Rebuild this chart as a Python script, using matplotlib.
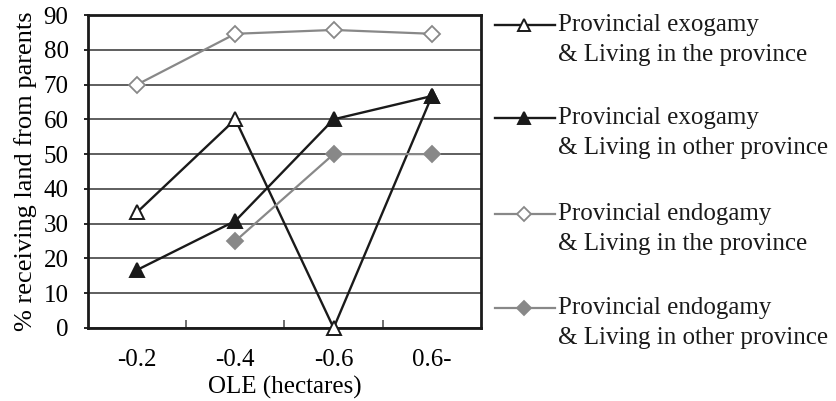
import numpy as np
import matplotlib
matplotlib.use("Agg")
import matplotlib.pyplot as plt
from matplotlib.lines import Line2D

plt.rcParams['font.family'] = ['Liberation Serif', 'DejaVu Serif']

categories = ["-0.2", "-0.4", "-0.6", "0.6-"]
exo_in_prov = [33.3, 60.0, 0.0, 66.7]
exo_other_prov = [16.7, 30.8, 60.0, 66.7]
endo_in_prov = [70.0, 84.6, 85.7, 84.6]
endo_other_prov = [np.nan, 25.0, 50.0, 50.0]
labels = ["Provincial exogamy\n& Living in the province",
          "Provincial exogamy\n& Living in other province",
          "Provincial endogamy\n& Living in the province",
          "Provincial endogamy\n& Living in other province"]
yticks = list(range(0, 91, 10))

BLACK = "#1a1a1a"
GRAY = "#888888"
FS = 18

fig = plt.figure(figsize=(8.37, 4.01), dpi=100)
ax = fig.add_axes([88/837, 1-328/401, (481-88)/837, (328-15)/401])

x = np.arange(len(categories))
styles = [
    dict(color=BLACK, marker='^', mfc='white', mec=BLACK, ms=10, lw=1.7, mew=1.4),
    dict(color=BLACK, marker='^', mfc=BLACK, mec=BLACK, ms=10, lw=1.7, mew=1.4),
    dict(color=GRAY, marker='D', mfc='white', mec=GRAY, ms=8, lw=1.6, mew=1.3),
    dict(color=GRAY, marker='D', mfc=GRAY, mec=GRAY, ms=8, lw=1.6, mew=1.3),
]
series = [exo_in_prov, exo_other_prov, endo_in_prov, endo_other_prov]
for s, st in zip(series, styles):
    ax.plot(x, s, zorder=3, clip_on=False, **st)

ax.set_xlim(-0.5, len(categories) - 0.5)
ax.set_ylim(0, 90)
ax.set_yticks(yticks)
ax.set_xticks(x)
ax.set_xticklabels(categories)
ax.set_xticks(np.arange(0.5, len(categories) - 0.5, 1.0), minor=True)
ax.tick_params(axis='x', which='major', length=0, pad=15, labelsize=FS)
ax.tick_params(axis='x', which='minor', direction='in', length=6, width=1.2, color='#555555')
ax.tick_params(axis='y', length=3, direction='out', pad=11, labelsize=FS, width=1.2)
ax.yaxis.grid(True, color='#333333', lw=1.1)
ax.set_axisbelow(True)
for sp in ax.spines.values():
    sp.set_linewidth(2.0)
    sp.set_color(BLACK)

ax.set_xlabel("OLE (hectares)", fontsize=FS, labelpad=4)
ax.set_ylabel("% receiving land from parents", fontsize=19, labelpad=5)

# legend drawn manually, handle aligned with first line
legend_y = [25, 118, 214, 308]
for lab, st, yy in zip(labels, styles, legend_y):
    yf = 1 - yy/401
    fig.add_artist(Line2D([495/837, 555/837], [yf, yf], transform=fig.transFigure,
                          color=st['color'], lw=st['lw']))
    fig.add_artist(Line2D([524/837], [yf], transform=fig.transFigure,
                          marker=st['marker'], mfc=st['mfc'], mec=st['mec'],
                          ms=st['ms']*0.85, mew=st['mew'], lw=0))
    l1, l2 = lab.split("\n")
    fig.text(558/837, yf, l1, fontsize=FS, va='center', ha='left', color=BLACK)
    fig.text(558/837, 1 - (yy+30)/401, l2, fontsize=FS, va='center', ha='left', color=BLACK)

fig.savefig("out.png", dpi=100)
